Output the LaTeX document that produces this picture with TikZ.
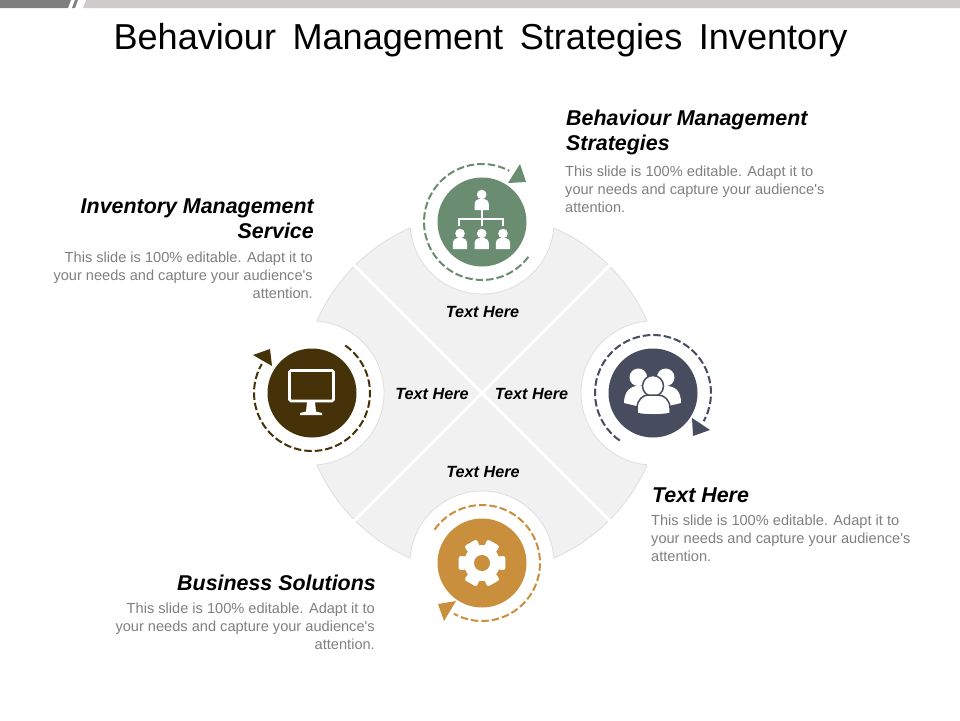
\documentclass[tikz,border=0pt]{standalone}
\usepackage{fontspec}
\usetikzlibrary{calc}
\setmainfont{Liberation Sans}
\definecolor{cgreen}{HTML}{6A8C70}
\definecolor{cnavy}{HTML}{474C5E}
\definecolor{cbrown}{HTML}{453208}
\definecolor{cgold}{HTML}{C98F3D}
\definecolor{csector}{HTML}{F1F1F1}
\definecolor{cedge}{HTML}{DEDEDE}
\definecolor{cbody}{HTML}{7F7F7F}
\definecolor{cbardark}{HTML}{7F7F7F}
\definecolor{cbarlight}{HTML}{CFCBCB}
\tikzset{
  disc/.style={circle,minimum size=89pt,inner sep=0pt,fill=#1},
  ring/.style={draw=#1,line width=2pt,dash pattern=on 7.5pt off 3pt},
  tip/.style={fill=#1},
  heading/.style={inner sep=0pt,font=\fontsize{21.4}{25}\selectfont\bfseries\itshape,text=black},
  bodytext/.style={inner sep=0pt,font=\fontsize{14.6}{18}\selectfont,text=cbody},
  sectorlabel/.style={inner sep=0pt,font=\fontsize{16.2}{18}\selectfont\bfseries\itshape,text=black},
  icon/.style={fill=white,draw=none},
  iconline/.style={draw=white,line width=2.4pt},
}
\newcommand{\personicon}[2]{%
  \fill[icon] (#1,#2-15.5) circle (4.8);
  \fill[icon] (#1-7.2,#2) -- (#1-7.2,#2-5) .. controls (#1-7.2,#2-9) and (#1-4.5,#2-11) .. (#1-2.5,#2-11)
     -- (#1+2.5,#2-11) .. controls (#1+4.5,#2-11) and (#1+7.2,#2-9) .. (#1+7.2,#2-5) -- (#1+7.2,#2) -- cycle;
}
\newcommand{\blurb}{This slide is 100\% editable. Adapt it to\\your needs and capture your audience\textquotesingle s\\attention.}
\begin{document}
\begin{tikzpicture}[x=1pt,y=-1pt]
\useasboundingbox (0,0) rectangle (960,720);
% top bar
\fill[cbardark] (0,0) -- (71,0) -- (68,8) -- (0,8) -- cycle;
\fill[cbardark] (75,0) -- (78,0) -- (75,8) -- (72,8) -- cycle;
\fill[cbarlight] (86,0) -- (960,0) -- (960,8) -- (83,8) -- cycle;
% title
\node[inner sep=0pt,font=\fontsize{36.1}{40}\selectfont] (title) at (480.5,40.5) {Behaviour\hspace{.18em} Management\hspace{.18em} Strategies\hspace{.18em} Inventory};
% wheel
\coordinate (hub) at (482,393);
\coordinate (ct) at (482,222);
\coordinate (cr) at (653,393);
\coordinate (cl) at (312,393);
\coordinate (cb) at (482,563);
\fill[csector,draw=cedge,line width=.8pt] (hub) circle (180);
\foreach \c in {ct,cr,cl,cb} \fill[white] (\c) circle (72);
\begin{scope}
  \clip (hub) circle (180);
  \foreach \c in {ct,cr,cl,cb} \draw[cedge,line width=.8pt] (\c) circle (72);
\end{scope}
\draw[white,line width=3pt] (hub) ++(-135:190) -- ++(45:380);
\draw[white,line width=3pt] (hub) ++(135:190) -- ++(-45:380);
% sector labels
\node[sectorlabel] (l1) at (482.5,312.5) {Text Here};
\node[sectorlabel] (l2) at (432,393.5) {Text Here};
\node[sectorlabel] (l3) at (531.5,393.5) {Text Here};
\node[sectorlabel] (l4) at (483,471.5) {Text Here};
% rings (y axis is flipped: angles are measured clockwise on the page)
\draw[ring=cgreen] ($(ct)+(37:58)$) arc[start angle=37,end angle=298,radius=58];
\draw[ring=cnavy] ($(cr)+(125:58)$) arc[start angle=125,end angle=389,radius=58];
\draw[ring=cbrown] ($(cl)+(-55:58)$) arc[start angle=-55,end angle=210,radius=58];
\draw[ring=cgold] ($(cb)+(-145:58)$) arc[start angle=-145,end angle=119,radius=58];
\fill[tip=cgreen] (520,164) -- (526,182) -- (508,183) -- cycle;
\fill[tip=cnavy] (692,418) -- (710,430) -- (693,436) -- cycle;
\fill[tip=cbrown] (253,355) -- (270,349) -- (272,366) -- cycle;
\fill[tip=cgold] (438,604) -- (456,601) -- (444,621) -- cycle;
% discs
\node[disc=cgreen] (d1) at (ct) {};
\node[disc=cnavy] (d2) at (cr) {};
\node[disc=cbrown] (d3) at (cl) {};
\node[disc=cgold] (d4) at (cb) {};
% org icon
\personicon{481.7}{210}
\personicon{460}{249}
\personicon{481.7}{249}
\personicon{503}{249}
\draw[iconline] (459,226) -- (459,219) -- (503,219) -- (503,226);
\draw[iconline] (481.7,210) -- (481.7,226);
% people icon
\fill[icon] (638.3,377.3) circle (8.8);
\fill[icon] (665.7,377.3) circle (8.8);
\fill[icon] (624,403) .. controls (624,392) and (630,386) .. (638,386) -- (666,386) .. controls (676,386) and (681,392) .. (681,403) -- (660,408) -- (645,408) -- cycle;
\fill[icon,draw=cnavy,line width=1.5pt] (653,386) circle (10.5);
\fill[icon,draw=cnavy,line width=1.5pt] (637,413.5) -- (637,408) .. controls (637,400) and (643,395) .. (648,395) -- (658,395) .. controls (664,395) and (670,400) .. (670,408) -- (670,413.5) .. controls (660,415.5) and (647,415.5) .. (637,413.5) -- cycle;
% monitor icon
\draw[white,line width=2.6pt,rounded corners=1.5pt] (289.5,370.5) rectangle (333.5,401);
\fill[icon] (307,402) -- (315,402) -- (316,411.5) -- (322,413) -- (322,415) -- (300,415) -- (300,413) -- (306,411.5) -- cycle;
% gear icon
\fill[icon] (cb) circle (18);
\foreach \a in {0,60,...,300}
  \fill[icon,rounded corners=2.5pt] ($(cb)+(\a-26:14)$) -- ($(cb)+(\a-17:24.5)$) -- ($(cb)+(\a+17:24.5)$) -- ($(cb)+(\a+26:14)$) -- cycle;
\fill[cgold] (cb) circle (8);
% texts
\node[heading,anchor=north west,align=left] (h1) at (566,109.5) {Behaviour Management\\Strategies};
\node[bodytext,anchor=north west,align=left] (b1) at (565,166) {\blurb};
\node[heading,anchor=north east,align=right] (h2) at (314,199) {Inventory Management\\Service};
\node[bodytext,anchor=north east,align=right] (b2) at (313,252) {\blurb};
\node[heading,anchor=north west,align=left] (h3) at (652,488) {Text Here};
\node[bodytext,anchor=north west,align=left] (b3) at (651,514.5) {\blurb};
\node[heading,anchor=north east,align=right] (h4) at (376,575) {Business Solutions};
\node[bodytext,anchor=north east,align=right] (b4) at (375,603) {\blurb};
\end{tikzpicture}
\end{document}
